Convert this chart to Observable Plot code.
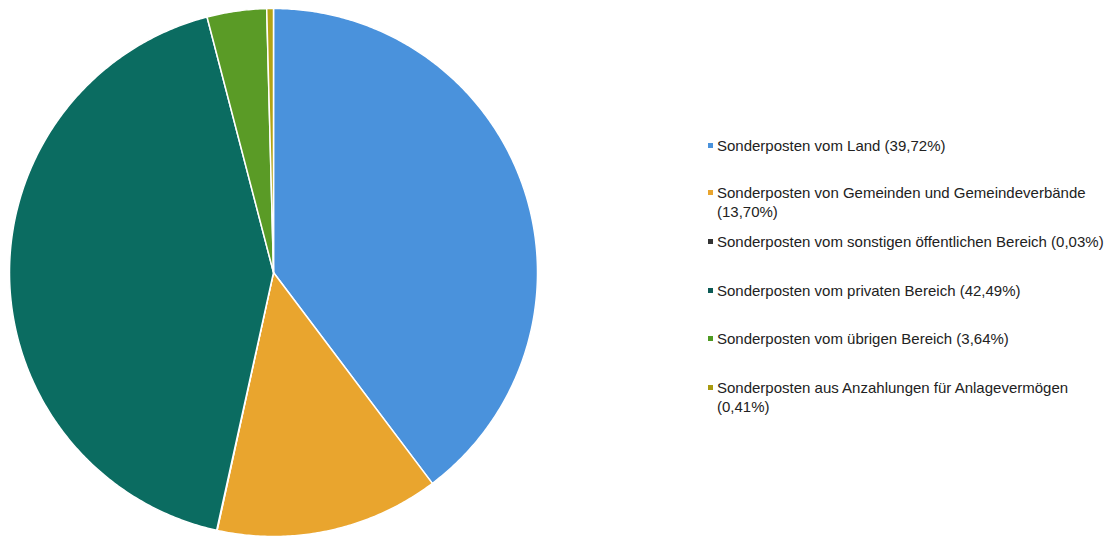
<!DOCTYPE html>
<html>
<head>
<meta charset="utf-8">
<script src="https://cdn.jsdelivr.net/npm/d3@7"></script>
<script src="https://cdn.jsdelivr.net/npm/@observablehq/plot@0.6"></script>
<style>
  html, body { margin: 0; padding: 0; background: #fff; }
  #wrap { position: relative; width: 1113px; height: 536px; overflow: hidden; }
  #legend { position: absolute; left: 0; top: 0; font-family: "Liberation Sans", Arial, sans-serif; font-size: 15px; color: #222; }
  .item { position: absolute; left: 708px; white-space: nowrap; line-height: 19px; }
  .sw { position: absolute; left: 0; top: 7px; width: 5px; height: 5px; }
  .txt { position: absolute; left: 9px; top: 0; }
</style>
</head>
<body>
<div id="wrap"><div id="legend"></div></div>
<script>
const categories = [
  "Sonderposten vom Land",
  "Sonderposten von Gemeinden und Gemeindeverbände",
  "Sonderposten vom sonstigen öffentlichen Bereich",
  "Sonderposten vom privaten Bereich",
  "Sonderposten vom übrigen Bereich",
  "Sonderposten aus Anzahlungen für Anlagevermögen"
];
const values = [39.72, 13.70, 0.03, 42.49, 3.64, 0.41];
const valueLabels = ["39,72%", "13,70%", "0,03%", "42,49%", "3,64%", "0,41%"];
const colors = ["#4a92dc", "#e9a52e", "#333333", "#0b6c61", "#5a9b26", "#b3a314"];
const legendMarkerColors = ["#4a92dc", "#e9a52e", "#333333", "#0c5a55", "#4e9a22", "#a89a10"];
const legendBreaks = [false, true, false, false, false, true];

// Build slice polygons in data space (unit circle), clockwise from 12 o'clock
const total = d3.sum(values);
const pieData = [];
let acc = 0;
values.forEach((v, i) => {
  const a0 = acc / total * 2 * Math.PI;
  acc += v;
  const a1 = acc / total * 2 * Math.PI;
  const n = Math.max(2, Math.ceil((a1 - a0) / (Math.PI / 360)));
  pieData.push({cat: categories[i], x: 0, y: 0, k: 0});
  for (let j = 0; j <= n; j++) {
    const a = a0 + (a1 - a0) * j / n;
    pieData.push({cat: categories[i], x: Math.sin(a), y: Math.cos(a), k: j + 1});
  }
  pieData.push({cat: categories[i], x: 0, y: 0, k: n + 2});
});

const chart = Plot.plot({
  width: 1113,
  height: 536,
  marginLeft: 9,
  marginRight: 576,
  marginTop: 8,
  marginBottom: 0,
  x: {domain: [-1, 1], axis: null},
  y: {domain: [-1, 1], axis: null},
  color: {domain: categories, range: colors},
  marks: [
    Plot.line(pieData, {x: "x", y: "y", z: "cat", fill: "cat", stroke: "#ffffff", strokeWidth: 1.5, curve: "linear-closed"})
  ]
});
chart.style.position = "absolute";
chart.style.left = "0";
chart.style.top = "0";
document.getElementById("wrap").prepend(chart);

const tops = [136, 183, 232, 281, 329, 378];
const legend = document.getElementById("legend");
categories.forEach((c, i) => {
  const d = document.createElement("div");
  d.className = "item";
  d.style.top = tops[i] + "px";
  const sw = document.createElement("div");
  sw.className = "sw";
  sw.style.background = legendMarkerColors[i];
  const t = document.createElement("div");
  t.className = "txt";
  t.innerHTML = c + (legendBreaks[i] ? "<br>" : " ") + "(" + valueLabels[i] + ")";
  d.appendChild(sw);
  d.appendChild(t);
  legend.appendChild(d);
});
</script>
</body>
</html>
